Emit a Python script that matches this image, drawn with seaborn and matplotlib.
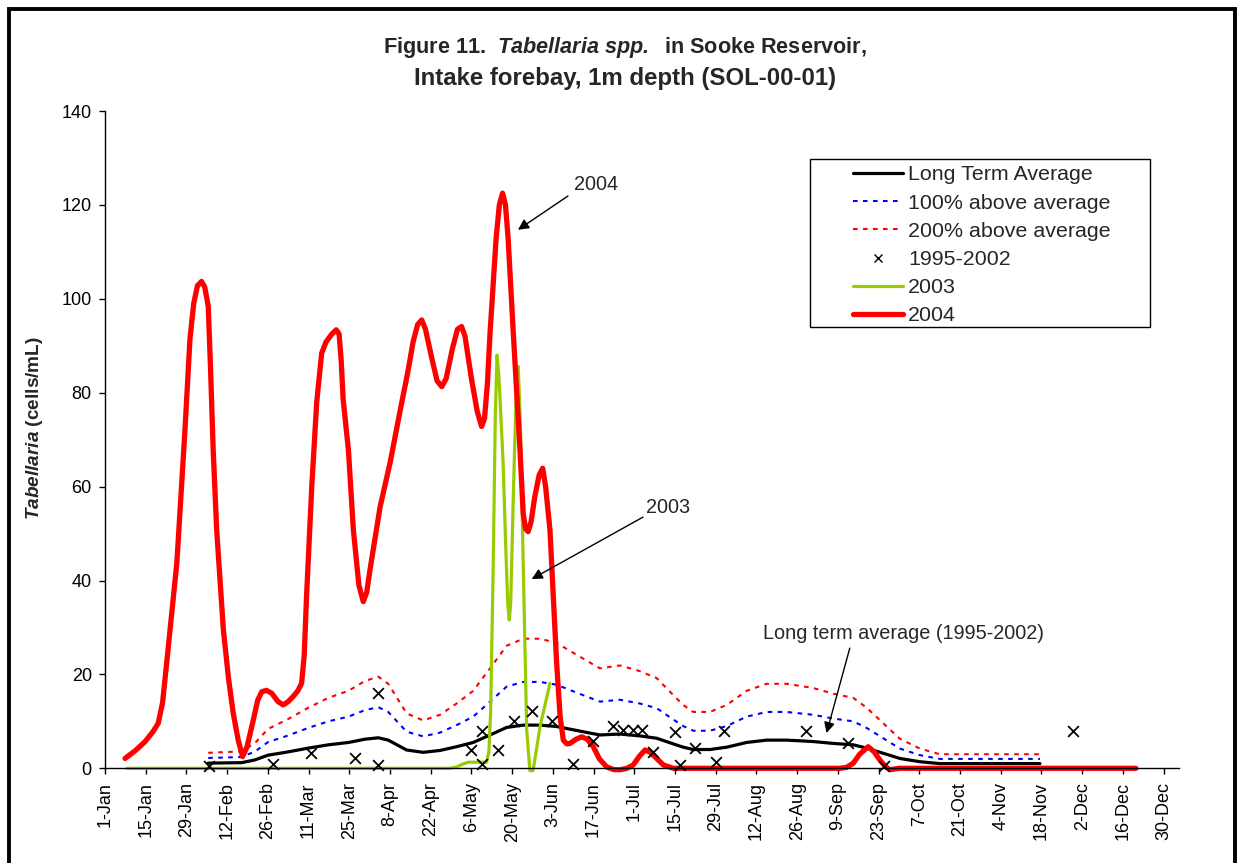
import matplotlib
matplotlib.use("Agg")
import matplotlib.pyplot as plt
import matplotlib.patches as mpatches
from matplotlib.lines import Line2D
import numpy as np
import pandas as pd
import seaborn as sns

# x values are days counted from 1-Jan (2004, leap year)
tick_labels = ["1-Jan", "15-Jan", "29-Jan", "12-Feb", "26-Feb", "11-Mar", "25-Mar",
               "8-Apr", "22-Apr", "6-May", "20-May", "3-Jun", "17-Jun", "1-Jul",
               "15-Jul", "29-Jul", "12-Aug", "26-Aug", "9-Sep", "23-Sep", "7-Oct",
               "21-Oct", "4-Nov", "18-Nov", "2-Dec", "16-Dec", "30-Dec"]

lta_day = [35.5, 47.0, 51.6, 56.1, 63.0, 69.9, 76.8, 83.7, 89.4, 94.0, 97.4, 103.7,
           109.4, 115.2, 120.9, 126.6, 132.4, 138.1, 143.8, 149.6, 155.3, 161.0, 166.8,
           170.2, 177.1, 183.9, 189.7, 195.4, 198.8, 202.3, 208.0, 213.8, 220.6, 227.5,
           234.4, 243.5, 250.4, 257.3, 261.9, 267.6, 273.3, 280.2, 287.0, 321.5]
lta_val = [1.1, 1.2, 1.8, 2.8, 3.5, 4.3, 5.0, 5.5, 6.2, 6.5, 6.0, 3.9,
           3.4, 3.8, 4.6, 5.5, 7.1, 8.7, 9.2, 9.2, 8.9, 8.2, 7.5,
           7.1, 7.3, 6.9, 6.4, 5.2, 4.5, 4.0, 4.0, 4.5, 5.5, 6.0,
           6.0, 5.7, 5.3, 5.0, 4.3, 3.2, 2.1, 1.4, 1.0, 1.0]
above100_val = [2.2, 2.4, 3.6, 5.6, 7.0, 8.6, 10.0, 11.0, 12.4, 13.0, 12.0, 7.8,
                6.8, 7.6, 9.2, 11.0, 14.2, 17.4, 18.4, 18.4, 17.8, 16.4, 15.0,
                14.2, 14.6, 13.8, 12.8, 10.4, 9.0, 8.0, 8.0, 9.0, 11.0, 12.0,
                12.0, 11.4, 10.6, 10.0, 8.6, 6.4, 4.2, 2.8, 2.0, 2.0]
above200_val = [3.3, 3.6, 5.4, 8.4, 10.5, 12.9, 15.0, 16.5, 18.6, 19.5, 18.0, 11.7,
                10.2, 11.4, 13.8, 16.5, 21.3, 26.1, 27.6, 27.6, 26.7, 24.6, 22.5,
                21.3, 21.9, 20.7, 19.2, 15.6, 13.5, 12.0, 12.0, 13.5, 16.5, 18.0,
                18.0, 17.1, 15.9, 15.0, 12.9, 9.6, 6.3, 4.2, 3.0, 3.0]

hist_day = [35.9, 57.7, 70.8, 86.0, 93.8, 94.0, 125.8, 129.8, 129.8, 135.1, 140.6, 146.7,
            153.6, 160.8, 167.9, 174.8, 178.0, 181.6, 184.5, 188.5, 196.0, 197.7, 202.9,
            210.0, 212.9, 241.0, 255.6, 267.9, 332.9]
hist_val = [0.5, 0.9, 3.3, 2.3, 16.0, 0.7, 3.8, 8.0, 0.9, 4.0, 10.1, 12.1,
            10.1, 0.9, 5.9, 9.0, 8.2, 8.2, 8.2, 3.5, 7.8, 0.7, 4.3,
            1.4, 8.0, 8.0, 5.3, 0.5, 8.0]

y2003_day = [7.5, 118.6, 121.0, 123.0, 124.9, 131.2, 132.0, 132.6, 133.5, 134.2, 134.8,
             135.4, 136.2, 136.9, 137.8, 138.5, 139.0, 139.5, 140.4, 141.3, 142.1, 142.9,
             143.8, 145.0, 146.1, 147.2, 149.6, 153.0]
y2003_val = [0, 0, 0.3, 0.9, 1.3, 1.3, 3.5, 12.0, 43.7, 75.0, 88.0,
             84.0, 74.0, 65.0, 47.0, 35.0, 31.6, 35.0, 57.9, 78.0, 85.6, 72.0,
             43.7, 8.2, -0.5, -0.5, 8.9, 18.1]

y2004_day = [6.9, 10.5, 13.8, 16.5, 18.3, 19.8, 21.2, 24.7, 27.5, 29.2, 30.5, 31.8, 33.2,
             34.3, 35.5, 36.3, 37.2, 38.4, 40.7, 42.5, 44.1, 45.8, 47.3, 48.8, 51.0, 52.5,
             53.9, 55.5, 57.3, 59.5, 61.3, 63.0, 64.7, 66.3, 67.6, 68.5, 69.3, 71.1, 72.8,
             74.5, 76.0, 78.0, 79.5, 80.5, 81.2, 81.9, 83.7, 85.4, 87.3, 88.8, 90.0, 91.1,
             94.6, 98.0, 102.0, 104.0, 106.0, 107.5, 108.9, 110.2, 112.5, 114.2, 115.8,
             117.3, 119.5, 121.2, 122.6, 123.8, 126.0, 128.0, 129.5, 130.5, 131.5, 132.4,
             134.5, 135.6, 136.7, 137.7, 138.6, 140.4, 142.7, 143.8, 144.6, 145.5, 146.5,
             147.8, 149.3, 150.5, 151.5, 153.0, 155.3, 156.5, 157.6, 158.8, 159.9, 162.0,
             163.9, 165.8, 167.9, 170.0, 172.5, 175.0, 177.1, 179.5, 181.6, 183.8, 185.7,
             187.5, 189.7, 192.0, 195.4, 252.7, 255.0, 257.3, 259.5, 262.4, 264.5, 266.4,
             268.5, 269.9, 273.0, 354.5]
y2004_val = [2.1, 3.8, 5.7, 7.8, 9.6, 14.0, 22.4, 43.7, 72.1, 91.3, 99.0, 102.8, 103.7,
             102.5, 98.4, 85.0, 67.8, 50.8, 29.5, 19.0, 11.7, 6.0, 2.5, 4.5, 10.3, 14.5,
             16.3, 16.6, 16.0, 14.2, 13.5, 14.2, 15.3, 16.5, 18.1, 24.0, 36.6, 60.0, 78.0,
             88.4, 90.8, 92.5, 93.4, 92.5, 87.0, 78.5, 67.8, 50.8, 39.0, 35.5, 37.5, 42.2,
             55.7, 65.0, 77.8, 84.0, 91.0, 94.5, 95.5, 93.5, 87.0, 82.5, 81.3,
             83.0, 89.5, 93.5, 94.1, 92.0, 83.0, 76.0, 72.8, 74.5, 82.0, 92.7,
             113.0, 120.0, 122.5, 120.0, 113.0, 92.7, 67.8, 54.3, 51.0, 50.4, 52.5,
             57.9, 62.5, 63.9, 60.0, 50.8, 22.4, 11.0, 6.0, 5.2, 5.3, 6.2,
             6.7, 6.2, 4.6, 2.0, 0.3, -0.3, -0.3, 0.0, 0.7, 2.6, 3.9,
             3.4, 2.1, 0.7, 0.0, 0.0, 0.2, 1.1, 3.0, 4.6, 3.5, 1.8,
             0.3, -0.3, 0.0, 0.0]

sns.set_theme(style="ticks")
plt.rcParams["font.family"] = ["Liberation Sans", "DejaVu Sans"]
plt.rcParams["mathtext.fontset"] = "custom"
plt.rcParams["mathtext.bfit"] = "Liberation Sans:italic:bold"
plt.rcParams["mathtext.it"] = "Liberation Sans:italic"
plt.rcParams["mathtext.rm"] = "Liberation Sans"

W, H = 1238, 863
fig = plt.figure(figsize=(W / 100, H / 100), dpi=100)
ax = fig.add_axes([105 / W, 1 - 768.3 / H, (1179 - 105) / W, (768.3 - 111) / H])

lta = pd.DataFrame({"day": lta_day, "lta": lta_val, "a100": above100_val, "a200": above200_val})
hist = pd.DataFrame({"day": hist_day, "val": hist_val})
d03 = pd.DataFrame({"day": y2003_day, "val": y2003_val})
d04 = pd.DataFrame({"day": y2004_day, "val": y2004_val})

dots = (0, (2.2, 2.6))
sns.lineplot(data=lta, x="day", y="a100", ax=ax, color="#0000FF", lw=1.5, ls=dots,
             estimator=None, sort=False, clip_on=False)
sns.lineplot(data=lta, x="day", y="a200", ax=ax, color="#FF0000", lw=1.5, ls=dots,
             estimator=None, sort=False, clip_on=False)
sns.lineplot(data=lta, x="day", y="lta", ax=ax, color="black", lw=2.3,
             estimator=None, sort=False, clip_on=False, solid_joinstyle="round")
sns.lineplot(data=d03, x="day", y="val", ax=ax, color="#99CC00", lw=2.3,
             estimator=None, sort=False, clip_on=False, solid_joinstyle="round")
sns.lineplot(data=d04, x="day", y="val", ax=ax, color="#FF0000", lw=3.8,
             estimator=None, sort=False, clip_on=False, solid_joinstyle="round",
             solid_capstyle="round")
sns.scatterplot(data=hist, x="day", y="val", ax=ax, marker="x", color="black",
                s=60, linewidth=1.3, zorder=5, clip_on=False)

ax.set_xlim(0, 369.3)
ax.set_ylim(0, 140)
ax.set_xticks(np.arange(len(tick_labels)) * 14)
ax.set_xticklabels(tick_labels, rotation=90)
ax.set_yticks(np.arange(0, 141, 20))
ax.set_xlabel("")
ax.set_ylabel("")
for s in ["top", "right"]:
    ax.spines[s].set_visible(False)
for s in ["left", "bottom"]:
    ax.spines[s].set_color("black")
    ax.spines[s].set_linewidth(1.0)
ax.tick_params(axis="both", direction="out", length=4, width=1, color="black",
               labelsize=13, labelcolor="black")
ax.tick_params(axis="y", pad=5.5)
ax.tick_params(axis="x", pad=6)
ax.set_facecolor("white")

# annotations
arrow = dict(arrowstyle="-|>", color="black", lw=1, mutation_scale=16, shrinkA=0, shrinkB=0)
ax.annotate("", xy=(142.0, 114.7), xytext=(159.2, 121.9), arrowprops=arrow)
ax.text(161.2, 124.3, "2004", ha="left", va="center", fontsize=14.3)
ax.annotate("", xy=(146.7, 40.3), xytext=(185.0, 53.5), arrowprops=arrow)
ax.text(186.0, 55.5, "2003", ha="left", va="center", fontsize=14.3)
ax.annotate("", xy=(248.1, 7.5), xytext=(256.1, 25.6), arrowprops=arrow)
ax.text(226.2, 28.8, "Long term average (1995-2002)", ha="left", va="center", fontsize=14.3)

# legend
handles = [
    Line2D([], [], color="black", lw=2.3),
    Line2D([], [], color="#0000FF", lw=1.5, ls=dots),
    Line2D([], [], color="#FF0000", lw=1.5, ls=dots),
    Line2D([], [], color="black", lw=1.1, ls="none", marker="x", markersize=6),
    Line2D([], [], color="#99CC00", lw=2.3),
    Line2D([], [], color="#FF0000", lw=3.8),
]
labels = ["Long Term Average", "100% above average", "200% above average",
          "1995-2002", "2003", "2004"]
box = mpatches.Rectangle((810 / W, 1 - 327 / H), 340 / W, 168 / H, transform=fig.transFigure,
                         facecolor="white", edgecolor="black", lw=1, zorder=3)
fig.patches.append(box)
leg = fig.legend(handles, labels, loc="upper left", bbox_to_anchor=(853 / W, 1 - 165.5 / H),
                 frameon=False, borderpad=0, borderaxespad=0, handlelength=2.35,
                 handletextpad=0.22, labelspacing=0.43, fontsize=15.4)
leg.set_zorder(4)

# titles
fig.text(625 / W, 1 - 48 / H, r"Figure 11.  $\mathbfit{Tabellaria\ spp.}$  in Sooke Reservoir,",
         ha="center", va="center", fontsize=15.6, fontweight="bold")
fig.text(625 / W, 1 - 78 / H, "Intake forebay, 1m depth (SOL-00-01)",
         ha="center", va="center", fontsize=17.3, fontweight="bold")
fig.text(35 / W, 1 - 428 / H, r"$\mathbfit{Tabellaria}$ (cells/mL)", rotation=90,
         ha="center", va="center", fontsize=13.7, fontweight="bold")

# outer frame of the chart area
frame = mpatches.Rectangle((8.5 / W, -0.05), (1235 - 8.5) / W, 1.05 - 8.7 / H,
                           transform=fig.transFigure, fill=False, edgecolor="black", lw=2.8)
fig.patches.append(frame)

fig.savefig("out.png", dpi=100, facecolor="white")
